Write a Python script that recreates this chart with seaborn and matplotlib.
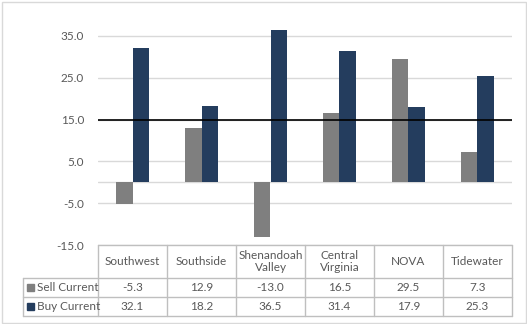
import matplotlib
matplotlib.use("Agg")
import matplotlib.pyplot as plt
import seaborn as sns
import pandas as pd
from matplotlib.patches import Rectangle

categories = ["Southwest", "Southside", "Shenandoah\nValley", "Central\nVirginia", "NOVA", "Tidewater"]
sell_current = [-5.3, 12.9, -13.0, 16.5, 29.5, 7.3]
buy_current = [32.1, 18.2, 36.5, 31.4, 17.9, 25.3]
series_names = ["Sell Current", "Buy Current"]
y_ticks = [-15, -5, 5, 15, 25, 35]
threshold = 15

colors = ["#7F7F7F", "#243D5E"]
text_col = "#595959"
grid_col = "#D9D9D9"
table_col = "#BFBFBF"
FS = 8.5

sns.set_theme(style="white")
plt.rcParams["font.family"] = ["Lato", "DejaVu Sans"]

df = pd.DataFrame({
    "category": categories * 2,
    "series": [series_names[0]] * len(categories) + [series_names[1]] * len(categories),
    "value": sell_current + buy_current,
})

W, H = 527, 324
fig = plt.figure(figsize=(W / 100, H / 100), dpi=100)

left_px, right_px = 98, 512
top_px, bot_px = 15, 245
ax = fig.add_axes([left_px / W, 1 - bot_px / H, (right_px - left_px) / W, (bot_px - top_px) / H])

sns.barplot(data=df, x="category", y="value", hue="series", palette=colors,
            width=0.48, saturation=1, linewidth=0, ax=ax, legend=False, zorder=3)
ax.set_ylim(-15, 40)
ax.set_xlim(-0.5, len(categories) - 0.5)
ax.set_yticks(y_ticks)
ax.set_yticklabels([f"{t:.1f}" for t in y_ticks], color=text_col, fontsize=FS)
ax.tick_params(axis="y", length=0, pad=10)
ax.set_xticks([])
ax.set_xlabel("")
ax.set_ylabel("")
for t in y_ticks:
    ax.axhline(t, color=grid_col, lw=1, zorder=1)
ax.axhline(0, color=grid_col, lw=1, zorder=2)
ax.axhline(threshold, color="black", lw=1.2, zorder=4)
for s in ax.spines.values():
    s.set_visible(False)
ax.patch.set_alpha(0)

ov = fig.add_axes([0, 0, 1, 1], zorder=-1)
ov.set_xlim(0, W)
ov.set_ylim(H, 0)
ov.axis("off")

ov.add_patch(Rectangle((1.5, 1.5), W - 3, H - 3, fill=False, ec="#D9D9D9", lw=1))

col_w = (right_px - left_px) / len(categories)
row_top, row_hdr, row_1, row_2 = 245, 278, 297, 316
leg_left = 23

ov.plot([left_px, right_px], [row_top, row_top], color=table_col, lw=1)
for y in (row_hdr, row_1, row_2):
    ov.plot([leg_left, right_px], [y, y], color=table_col, lw=1)
ov.plot([leg_left, leg_left], [row_hdr, row_2], color=table_col, lw=1)
for i in range(len(categories) + 1):
    x = left_px + i * col_w
    ov.plot([x, x], [row_top, row_2], color=table_col, lw=1)

for i, cat in enumerate(categories):
    cx = left_px + (i + 0.5) * col_w
    ov.text(cx, (row_top + row_hdr) / 2, cat, ha="center", va="center",
            fontsize=FS, color=text_col, linespacing=1.1)
    ov.text(cx, (row_hdr + row_1) / 2, f"{sell_current[i]:.1f}", ha="center", va="center",
            fontsize=FS, color=text_col)
    ov.text(cx, (row_1 + row_2) / 2, f"{buy_current[i]:.1f}", ha="center", va="center",
            fontsize=FS, color=text_col)

for name, c, (y0, y1) in zip(series_names, colors, [(row_hdr, row_1), (row_1, row_2)]):
    cy = (y0 + y1) / 2
    ov.add_patch(Rectangle((27, cy - 3.5), 7, 7, color=c))
    ov.text(37, cy, name, ha="left", va="center", fontsize=FS, color=text_col)

fig.savefig("out.png", dpi=100)
